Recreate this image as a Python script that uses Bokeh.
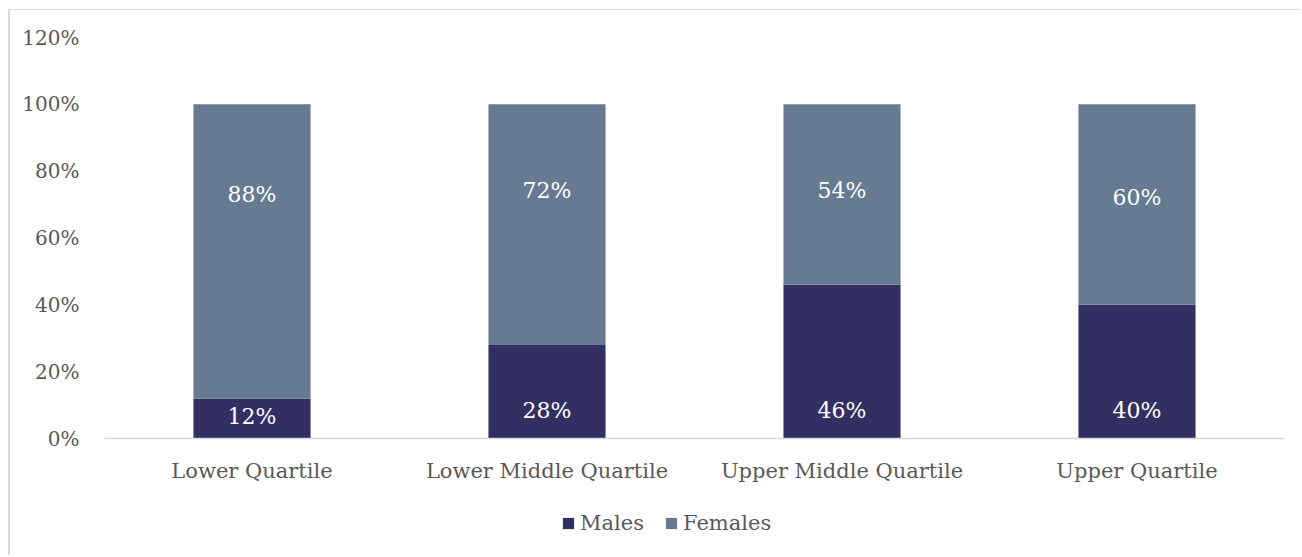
from bokeh.plotting import figure
from bokeh.layouts import column
from bokeh.models import ColumnDataSource, FactorRange, Range1d, NumeralTickFormatter, FixedTicker, Legend, LegendItem
from bokeh.core.properties import value
from bokeh.embed import file_html
from bokeh.resources import INLINE

categories = ["Lower Quartile", "Lower Middle Quartile", "Upper Middle Quartile", "Upper Quartile"]
males = [0.12, 0.28, 0.46, 0.40]
females = [0.88, 0.72, 0.54, 0.60]
male_labels = ["12%", "28%", "46%", "40%"]
female_labels = ["88%", "72%", "54%", "60%"]
y_ticks = [0, 0.2, 0.4, 0.6, 0.8, 1.0, 1.2]
series_names = ["Males", "Females"]

# label anchor heights
male_label_y = [0.066, 0.084, 0.084, 0.084]
female_label_y = [0.731, 0.743, 0.743, 0.722]

MALE_C = "#332F63"
FEMALE_C = "#667A91"
TEXT_C = "#595959"
FONT = "DejaVu Serif"

src = ColumnDataSource(dict(cat=categories, males=males, females=females,
                            ml=male_labels, fl=female_labels,
                            my=male_label_y, fy=female_label_y))

p = figure(x_range=FactorRange(*categories, range_padding=0), y_range=Range1d(0, 1.2),
           width=1290, height=480, output_backend="svg", toolbar_location=None,
           min_border_left=94, min_border_right=16, min_border_top=27, min_border_bottom=52)

r = p.vbar_stack(["males", "females"], x="cat", width=0.397, source=src,
                 color=[MALE_C, FEMALE_C], line_color=None)

p.text(x="cat", y="my", text="ml", source=src, text_align="center", text_baseline="middle",
       text_color="white", text_font=value(FONT), text_font_size="22px")
p.text(x="cat", y="fy", text="fl", source=src, text_align="center", text_baseline="middle",
       text_color="white", text_font=value(FONT), text_font_size="22px")

p.outline_line_color = None
p.xgrid.grid_line_color = None
p.ygrid.grid_line_color = None

p.yaxis.ticker = FixedTicker(ticks=y_ticks)
p.yaxis.formatter = NumeralTickFormatter(format="0%")
p.yaxis.axis_line_color = None
p.yaxis.major_tick_line_color = None
p.yaxis.minor_tick_line_color = None
p.yaxis.major_label_standoff = 19
p.yaxis.major_label_text_font = FONT
p.yaxis.major_label_text_font_size = "20px"
p.yaxis.major_label_text_color = TEXT_C

p.xaxis.axis_line_color = "#d9d9d9"
p.xaxis.axis_line_width = 1.5
p.xaxis.major_tick_line_color = None
p.xaxis.minor_tick_line_color = None
p.xaxis.major_label_standoff = 14
p.xaxis.major_label_text_font = FONT
p.xaxis.major_label_text_font_size = "21px"
p.xaxis.major_label_text_color = TEXT_C

# legend panel (its frame is aligned with the chart's frame by the column layout)
p2 = figure(width=1290, height=65, output_backend="svg", toolbar_location=None,
            x_range=Range1d(0, 1), y_range=Range1d(0, 1),
            x_axis_location=None, y_axis_location=None,
            min_border_left=94, min_border_right=16, min_border_top=0, min_border_bottom=0)
p2.outline_line_color = None
p2.xgrid.grid_line_color = None
p2.ygrid.grid_line_color = None
# legend-only swatches, kept outside the visible range
dm = p2.quad(left=[-5], right=[-4], bottom=[-5], top=[-4], color=MALE_C, line_color=None)
df = p2.quad(left=[-5], right=[-4], bottom=[-5], top=[-4], color=FEMALE_C, line_color=None)

legend = Legend(items=[LegendItem(label=series_names[0], renderers=[dm]),
                       LegendItem(label=series_names[1], renderers=[df])],
                orientation="horizontal", location=(457, 20))
legend.glyph_width = 14
legend.glyph_height = 14
legend.label_standoff = 5
legend.spacing = 20
legend.label_text_font = FONT
legend.label_text_font_size = "21px"
legend.label_text_color = TEXT_C
legend.border_line_color = None
legend.background_fill_alpha = 0
legend.margin = 0
legend.padding = 0
p2.add_layout(legend)

layout = column(p, p2, spacing=0,
                styles={"margin-left": "8px", "margin-top": "9px",
                        "border-left": "2px solid #d9d9d9", "border-top": "1px solid #d9d9d9"})

open("out.html", "w").write(file_html(layout, INLINE))
